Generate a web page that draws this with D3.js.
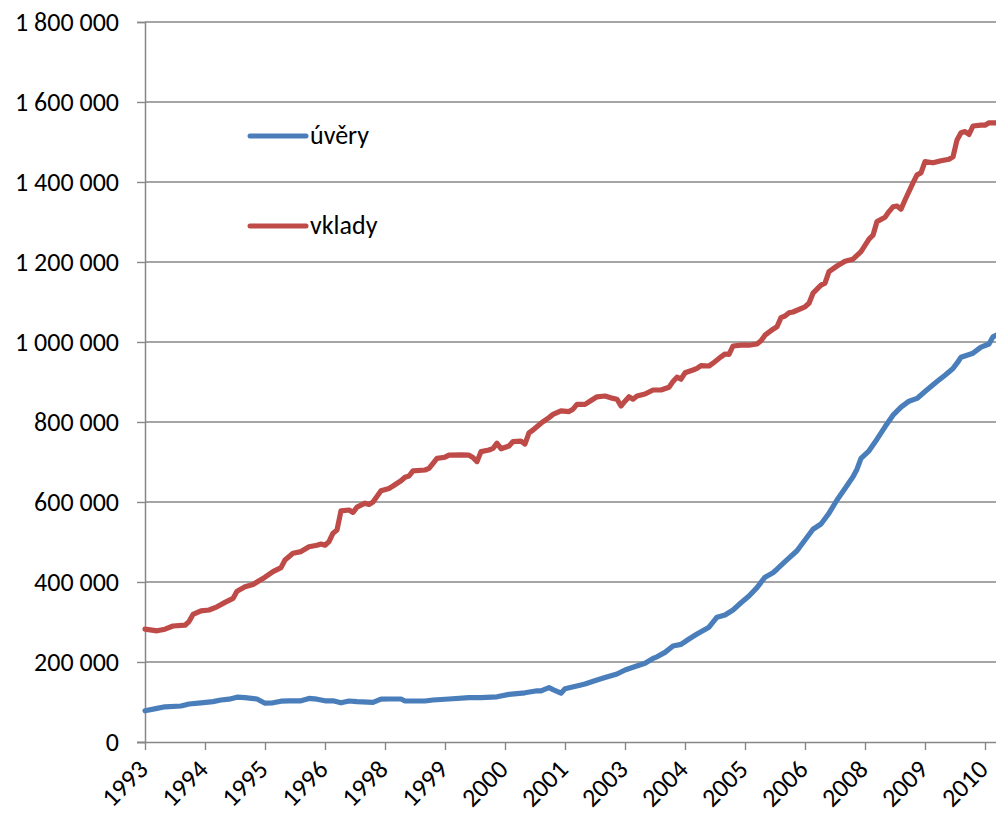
<!DOCTYPE html>
<html>
<head>
<meta charset="utf-8">
<script src="https://cdn.jsdelivr.net/npm/d3@7"></script>
<style>
  html, body { margin: 0; padding: 0; background: #fff; }
  svg text { font-family: Carlito, Calibri, "Open Sans", Lato, sans-serif; fill: #000; }
</style>
</head>
<body>
<svg id="chart" width="996" height="814"></svg>
<script>
// Monthly categories: month index counted from January 1993 (0) to October 2010 (213)
const firstYear = 1993;
const monthCount = 214;
const xTickLabels = ["1993","1994","1995","1996","1998","1999","2000","2001","2003","2004","2005","2006","2008","2009","2010"];
const xTickEvery = 15;
const yTicks = [0, 200000, 400000, 600000, 800000, 1000000, 1200000, 1400000, 1600000, 1800000];
const seriesNames = ["úvěry", "vklady"];

// úvěry (loans) – month index and value
const uveryMonths = [0,3,5,9,11,14,17,19,21,23,25,28,30,32,34,36,39,41,43,45,47,49,51,53,57,59,61,64,65,70,72,76,81,84,88,91,95,98,99,101,102,104,105,109,110,113,115,118,120,122,125,127,128,130,132,134,136,138,141,143,145,147,149,151,153,155,157,158,160,163,165,167,169,171,173,175,177,178,179,181,183,185,187,189,191,193,195,198,200,202,203,204,207,209,211,212,213];
const uveryValues = [78000,84000,88000,90000,95000,98000,101000,105000,107000,112000,111000,107500,97000,98000,102000,103000,103000,109000,107000,103000,103000,98000,102500,101000,99000,107000,107500,107500,102500,102500,105000,107500,111000,111000,113000,119000,123000,128000,128000,136000,131000,122000,133000,142500,145000,155000,161000,170000,180000,187000,197000,209000,213000,224000,240000,244000,257500,270000,287000,312000,317500,330000,348000,365000,386000,412000,423000,432000,451000,478000,505000,532000,545000,572000,605000,634000,663000,682000,709000,728000,757000,788000,817000,837000,852000,859000,876000,901000,917000,934000,947000,962000,972000,987000,995000,1013000,1018000];

// vklady (deposits) – month index and value
const vkladyMonths = [0,3,5,7,10,11,12,14,16,18,20,22,23,25,27,30,32,34,35,37,39,41,43,44,45,46,47,48,49,51,52,53,55,56,57,59,61,62,64,65,66,67,70,71,73,75,76,79,81,82,83,84,86,87,88,89,91,92,94,95,96,97,99,101,102,104,106,107,108,110,112,113,115,117,118,119,120,121,122,123,125,127,129,131,132,133,134,135,137,138,139,141,142,144,145,146,147,149,151,153,154,155,157,158,159,160,161,162,165,166,167,169,170,171,173,175,177,179,181,182,183,185,186,187,188,189,190,192,193,194,195,197,199,201,202,203,204,205,206,207,209,210,211,213];
const vkladyValues = [282000,278000,282000,290000,292000,301000,319000,328000,330000,338000,349000,359000,377000,388000,394000,412000,426000,436000,455000,472000,476000,488000,492000,495000,492000,501000,522000,530000,578000,580000,574000,587000,597000,594000,600000,628000,634000,640000,653000,662000,665000,678000,680000,684000,709000,712000,717000,718000,717000,711000,701000,726000,730000,734000,747000,733000,740000,751000,752000,745000,773000,780000,797000,811000,819000,828000,826000,832000,844000,844000,857000,863000,865000,859000,857000,840000,852000,863000,857000,865000,870000,880000,880000,887000,901000,912000,907000,923000,930000,934000,941000,940000,947000,963000,970000,969000,990000,992000,992000,995000,1003000,1017000,1032000,1038000,1061000,1065000,1073000,1075000,1088000,1097000,1122000,1142000,1147000,1176000,1190000,1202000,1207000,1226000,1257000,1267000,1301000,1312000,1326000,1338000,1340000,1332000,1355000,1398000,1418000,1423000,1451000,1448000,1453000,1457000,1463000,1505000,1523000,1526000,1519000,1540000,1542000,1542000,1548000,1548000];

const colors = ["#4A7EBB", "#BE4B48"];

const svg = d3.select("#chart");
const plot = { left: 145, right: 997, top: 22, bottom: 742 };

const x = d3.scaleLinear().domain([0, monthCount - 1]).range([plot.left, plot.right]);
const y = d3.scaleLinear().domain([0, 1800000]).range([plot.bottom, plot.top]);

const fmt = v => d3.format(",")(v).replace(/,/g, "\u00a0");
const gridColor = "#878787";

// horizontal gridlines
svg.append("g").selectAll("line").data(yTicks.filter(d => d > 0)).join("line")
  .attr("x1", plot.left).attr("x2", plot.right)
  .attr("y1", d => y(d)).attr("y2", d => y(d))
  .attr("stroke", gridColor).attr("stroke-width", 1.4);

// y axis
const yAxis = d3.axisLeft(y).tickValues(yTicks).tickSize(8).tickPadding(18).tickFormat(fmt);
const gy = svg.append("g").attr("transform", `translate(${plot.left},0)`).call(yAxis);
gy.select(".domain").attr("stroke", gridColor).attr("stroke-width", 1.5);
gy.selectAll(".tick line").attr("stroke", gridColor).attr("stroke-width", 1.4);
gy.selectAll(".tick text").style("font-size", "26px").attr("dy", "0.34em");

// x axis (category ticks every 15 months)
const tickIdx = xTickLabels.map((_, i) => i * xTickEvery);
const xAxis = d3.axisBottom(x).tickValues(tickIdx).tickSize(8).tickFormat((d, i) => xTickLabels[i]);
const gx = svg.append("g").attr("transform", `translate(0,${plot.bottom})`).call(xAxis);
gx.select(".domain").attr("stroke", gridColor).attr("stroke-width", 1.5).attr("d", `M${plot.left - 8},0.5H${plot.right}`);
gx.selectAll(".tick line").attr("stroke", gridColor).attr("stroke-width", 1.4);
gx.selectAll(".tick text")
  .style("font-size", "26px")
  .attr("text-anchor", "end")
  .attr("dy", null).attr("y", 0)
  .attr("transform", "translate(4,29) rotate(-45)");

// lines
const line = d3.line().x(d => x(d[0])).y(d => y(d[1]));
const series = [
  d3.zip(uveryMonths, uveryValues),
  d3.zip(vkladyMonths, vkladyValues)
];
svg.append("g").selectAll("path").data(series).join("path")
  .attr("d", line)
  .attr("fill", "none")
  .attr("stroke", (d, i) => colors[i])
  .attr("stroke-width", 5.2)
  .attr("stroke-linejoin", "round")
  .attr("stroke-linecap", "round");

// legend
const legendY = [136, 226];
const lg = svg.append("g").selectAll("g").data(seriesNames).join("g")
  .attr("transform", (d, i) => `translate(250,${legendY[i]})`);
lg.append("line").attr("x1", 0).attr("x2", 56).attr("y1", 0).attr("y2", 0)
  .attr("stroke", (d, i) => colors[i]).attr("stroke-width", 5).attr("stroke-linecap", "round");
lg.append("text").attr("x", 60).attr("y", 0).attr("dy", "0.32em")
  .style("font-size", "26px").text(d => d);
</script>
</body>
</html>
